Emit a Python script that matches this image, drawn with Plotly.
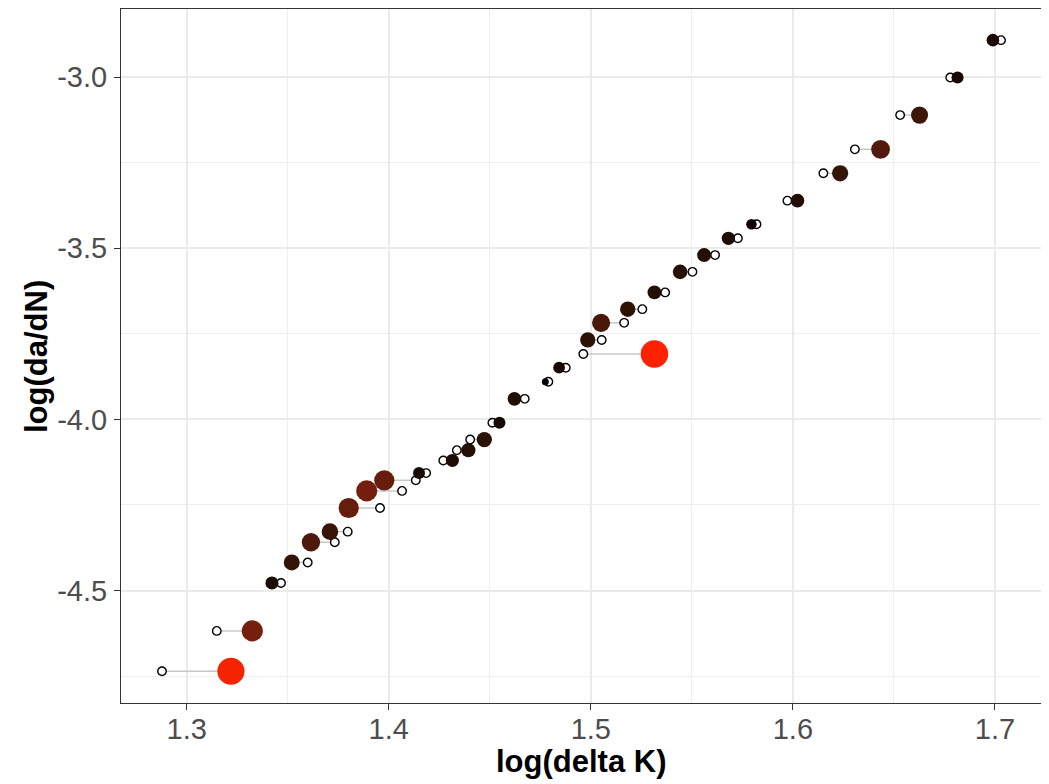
import numpy as np
import plotly.graph_objects as go

# ---- data ----
log_dadn = [-4.736, -4.618, -4.478, -4.418, -4.359, -4.328, -4.259, -4.209,
            -4.178, -4.157, -4.120, -4.090, -4.059, -4.010, -3.940, -3.890,
            -3.849, -3.809, -3.768, -3.718, -3.678, -3.629, -3.569, -3.520,
            -3.471, -3.430, -3.361, -3.281, -3.211, -3.111, -3.001, -2.892]
log_dk_obs = [1.2878, 1.3149, 1.3467, 1.3599, 1.3733, 1.3797, 1.3957, 1.4066,
              1.4134, 1.4185, 1.4270, 1.4337, 1.4403, 1.4513, 1.4673, 1.4790,
              1.4876, 1.4963, 1.5054, 1.5165, 1.5255, 1.5368, 1.5503, 1.5615,
              1.5728, 1.5820, 1.5973, 1.6151, 1.6307, 1.6531, 1.6779, 1.7030]
log_dk_fit = [1.3219, 1.3325, 1.3422, 1.3520, 1.3615, 1.3709, 1.3802, 1.3891,
              1.3978, 1.4150, 1.4315, 1.4394, 1.4473, 1.4548, 1.4622, 1.4775,
              1.4843, 1.5315, 1.4985, 1.5051, 1.5183, 1.5315, 1.5442, 1.5561,
              1.5681, 1.5795, 1.6023, 1.6234, 1.6434, 1.6627, 1.6815, 1.6990]

x_ticks = [1.3, 1.4, 1.5, 1.6, 1.7]
x_labels = ["1.3", "1.4", "1.5", "1.6", "1.7"]
y_ticks = [-4.5, -4.0, -3.5, -3.0]
y_labels = ["-4.5", "-4.0", "-3.5", "-3.0"]

y = np.array(log_dadn)
xo = np.array(log_dk_obs)
xf = np.array(log_dk_fit)
dist = np.abs(xf - xo)
r = (dist - dist.min()) / (dist.max() - dist.min())

# ---- colour gradient black -> red in Lab space (like ggplot) ----
def srgb_to_lab(rgb):
    c = np.array(rgb) / 255.0
    c = np.where(c <= 0.04045, c / 12.92, ((c + 0.055) / 1.055) ** 2.4)
    M = np.array([[0.4124, 0.3576, 0.1805], [0.2126, 0.7152, 0.0722], [0.0193, 0.1192, 0.9505]])
    xyz = M @ c / np.array([0.95047, 1.0, 1.08883])
    f = np.where(xyz > 0.008856, np.cbrt(xyz), 7.787 * xyz + 16 / 116)
    return np.array([116 * f[1] - 16, 500 * (f[0] - f[1]), 200 * (f[1] - f[2])])

def lab_to_srgb(lab):
    L, a, b = lab
    fy = (L + 16) / 116
    fx = fy + a / 500
    fz = fy - b / 200
    f = np.array([fx, fy, fz])
    xyz = np.where(f > 0.2069, f ** 3, (f - 16 / 116) / 7.787) * np.array([0.95047, 1.0, 1.08883])
    Mi = np.array([[3.2406, -1.5372, -0.4986], [-0.9689, 1.8758, 0.0415], [0.0557, -0.2040, 1.0570]])
    c = Mi @ xyz
    c = np.clip(c, 0, 1)
    c = np.where(c <= 0.0031308, 12.92 * c, 1.055 * c ** (1 / 2.4) - 0.055)
    c = np.clip(np.round(c * 255), 0, 255).astype(int)
    return "rgb(%d,%d,%d)" % tuple(c)

lab_lo = srgb_to_lab([0, 0, 0])
lab_hi = srgb_to_lab([255, 34, 0])
colors = [lab_to_srgb(lab_lo + t * (lab_hi - lab_lo)) for t in r]
sizes = 7.0 + 20.5 * np.sqrt(r)

# ---- segments ----
seg_x, seg_y = [], []
for a, b, yy in zip(xo, xf, y):
    seg_x += [a, b, None]
    seg_y += [yy, yy, None]

fig = go.Figure()
fig.add_trace(go.Scatter(x=seg_x, y=seg_y, mode="lines",
                         line=dict(color="#C8C8C8", width=1.5),
                         hoverinfo="skip", showlegend=False))
fig.add_trace(go.Scatter(x=xo, y=y, mode="markers",
                         marker=dict(size=8.5, color="white",
                                     line=dict(color="black", width=1.4)),
                         showlegend=False))
fig.add_trace(go.Scatter(x=xf, y=y, mode="markers",
                         marker=dict(size=sizes, color=colors, line=dict(width=0), opacity=1),
                         showlegend=False))

tickfont = dict(family="Liberation Sans, Arial, sans-serif", size=29, color="#4D4D4D")
titlefont = dict(family="Liberation Sans, Arial, sans-serif", size=31, color="black")

fig.update_layout(
    width=1041, height=776,
    margin=dict(l=113, r=7, t=1, b=81),
    paper_bgcolor="white", plot_bgcolor="white",
    xaxis=dict(range=[1.2675, 1.7233], tickvals=x_ticks, ticktext=x_labels,
               showgrid=True, gridcolor="#EBEBEB", gridwidth=1.6,
               minor=dict(dtick=0.05, tick0=1.3, showgrid=True, gridcolor="#EFEFEF", gridwidth=0.8, ticks=""),
               ticks="outside", ticklen=6, tickwidth=1.3, tickcolor="#333333",
               ticklabelstandoff=-6,
               showline=True, mirror=True, linecolor="#333333", linewidth=1,
               zeroline=False, tickfont=tickfont),
    yaxis=dict(range=[-4.8287, -2.801], tickvals=y_ticks, ticktext=y_labels,
               showgrid=True, gridcolor="#EBEBEB", gridwidth=1.6,
               minor=dict(dtick=0.25, tick0=-3.0, showgrid=True, gridcolor="#EFEFEF", gridwidth=0.8, ticks=""),
               ticks="outside", ticklen=6, tickwidth=1.3, tickcolor="#333333",
               ticklabelstandoff=1,
               showline=True, mirror=True, linecolor="#333333", linewidth=1,
               zeroline=False, tickfont=tickfont),
    annotations=[
        dict(text="<b>log(delta K)</b>", xref="paper", yref="paper", x=0.5, y=-0.084,
             xanchor="center", yanchor="middle", showarrow=False, font=titlefont),
        dict(text="<b>log(da/dN)</b>", xref="paper", yref="paper", x=-0.0923, y=0.5,
             xanchor="center", yanchor="middle", textangle=-90, showarrow=False, font=titlefont),
    ],
)

fig.write_html("out.html")
